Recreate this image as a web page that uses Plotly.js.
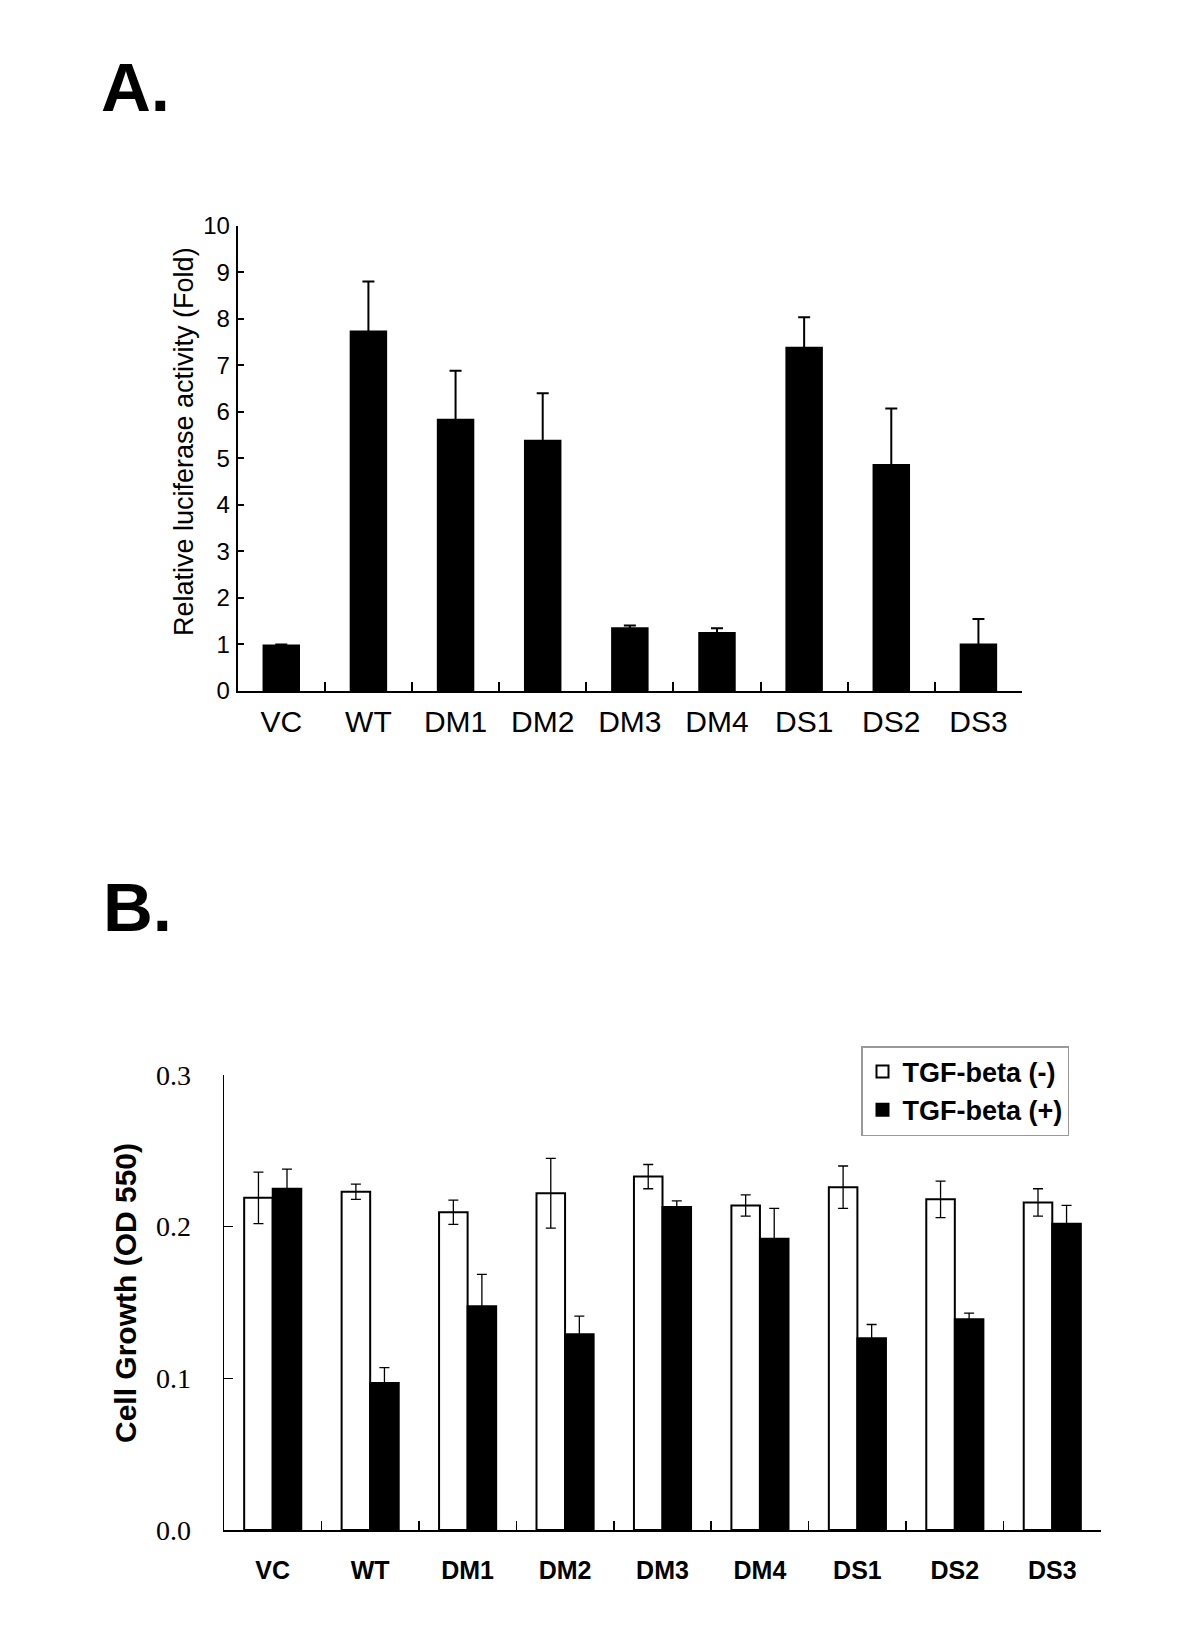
<!DOCTYPE html>
<html>
<head>
<meta charset="utf-8">
<script src="https://cdn.plot.ly/plotly-3.0.1.min.js"></script>
<style>html,body{margin:0;padding:0;background:#fff;}#chart{width:1200px;height:1641px;}</style>
</head>
<body>
<div id="chart"></div>
<script>
// ---- data ----
const categories = ['VC', 'WT', 'DM1', 'DM2', 'DM3', 'DM4', 'DS1', 'DS2', 'DS3'];

// Panel A: relative luciferase activity (fold)
const lucValues = [1.0, 7.75, 5.85, 5.40, 1.37, 1.27, 7.40, 4.88, 1.02];
const lucErrors = [0, 1.05, 1.03, 1.0, 0.04, 0.08, 0.63, 1.19, 0.53];

// Panel B: cell growth (OD 550)
const seriesNames = ['TGF-beta (-)', 'TGF-beta (+)'];
const growthMinus = [0.219, 0.223, 0.2095, 0.222, 0.233, 0.214, 0.226, 0.218, 0.216];
const growthMinusErr = [0.017, 0.005, 0.008, 0.023, 0.008, 0.007, 0.014, 0.012, 0.009];
const growthPlus = [0.225, 0.097, 0.1475, 0.129, 0.213, 0.192, 0.1265, 0.139, 0.202];
const growthPlusErr = [0.013, 0.010, 0.021, 0.012, 0.004, 0.020, 0.009, 0.004, 0.012];

const panelLabels = ['A.', 'B.'];
const titleA = 'Relative luciferase activity (Fold)';
const titleB = 'Cell Growth (OD 550)';

// ---- layout helpers ----
const W = 1200, H = 1641;
const px = v => v / W;
const py = v => 1 - v / H;
const SANS = 'Liberation Sans, Arial, Helvetica, sans-serif';
const SERIF = 'Liberation Serif, Times New Roman, serif';

const traces = [
  {
    type: 'bar', x: categories, y: lucValues, xaxis: 'x', yaxis: 'y',
    width: 0.43, showlegend: false,
    marker: {color: '#000', line: {color: '#000', width: 0}},
    error_y: {type: 'data', array: lucErrors, visible: true, color: '#000', thickness: 2, width: 6}
  },
  {
    type: 'bar', name: seriesNames[0], x: categories, y: growthMinus, xaxis: 'x2', yaxis: 'y2',
    marker: {color: '#fff', line: {color: '#000', width: 2}},
    error_y: {type: 'data', array: growthMinusErr, visible: true, color: '#000', thickness: 1.3, width: 5}
  },
  {
    type: 'bar', name: seriesNames[1], x: categories, y: growthPlus, xaxis: 'x2', yaxis: 'y2',
    marker: {color: '#000', line: {color: '#000', width: 2}},
    error_y: {type: 'data', array: growthPlusErr, visible: true, color: '#000', thickness: 1.3, width: 5}
  }
];

const layout = {
  width: W, height: H,
  margin: {l: 0, r: 0, t: 0, b: 0},
  paper_bgcolor: '#fff', plot_bgcolor: '#fff',
  barmode: 'group', bargap: 0.414, bargroupgap: 0,
  showlegend: true,
  hovermode: false,
  xaxis: {
    domain: [px(237.7), px(1022)], anchor: 'y', type: 'category', range: [-0.5, 8.5],
    showline: true, linecolor: '#000', linewidth: 2, mirror: false,
    ticks: 'inside', tickson: 'boundaries', ticklen: 9, tickwidth: 2, tickcolor: '#000',
    tickfont: {family: SANS, size: 30, color: '#000'}, ticklabelstandoff: 3,
    showgrid: false, zeroline: false
  },
  yaxis: {
    domain: [py(691), py(225.7)], anchor: 'x', range: [0, 10], tick0: 0, dtick: 1,
    showline: true, linecolor: '#000', linewidth: 2,
    ticks: 'inside', ticklen: 6, tickwidth: 2, tickcolor: '#000',
    tickfont: {family: SANS, size: 24, color: '#000'}, ticklabelstandoff: 1,
    showgrid: false, zeroline: false
  },
  xaxis2: {
    domain: [px(224), px(1101)], anchor: 'y2', type: 'category', range: [-0.5, 8.5],
    showline: true, linecolor: '#000', linewidth: 1.5,
    ticks: 'inside', tickson: 'boundaries', ticklen: 9, tickwidth: 1.5, tickcolor: '#000',
    tickfont: {family: SANS, size: 25, color: '#000', weight: 'bold'}, ticklabelstandoff: 17,
    showgrid: false, zeroline: false
  },
  yaxis2: {
    domain: [py(1530), py(1075)], anchor: 'x2', range: [0, 0.3], tick0: 0, dtick: 0.1, tickformat: '.1f',
    showline: true, linecolor: '#000', linewidth: 1.5,
    ticks: 'inside', ticklen: 9, tickwidth: 1.5, tickcolor: '#000',
    tickfont: {family: SERIF, size: 28, color: '#000'}, ticklabelstandoff: 26,
    showgrid: false, zeroline: false
  },
  legend: {
    x: px(861), y: py(1046), xanchor: 'left', yanchor: 'top',
    bgcolor: '#fff', bordercolor: '#999', borderwidth: 1.5,
    font: {family: SANS, size: 27, color: '#000', weight: 'bold'},
    traceorder: 'normal', itemwidth: 30
  },
  annotations: [
    {text: panelLabels[0], xref: 'paper', yref: 'paper', x: px(99), y: py(88), xanchor: 'left', yanchor: 'middle',
     showarrow: false, font: {family: SANS, size: 69, color: '#000', weight: 'bold'}},
    {text: panelLabels[1], xref: 'paper', yref: 'paper', x: px(101), y: py(907), xanchor: 'left', yanchor: 'middle',
     showarrow: false, font: {family: SANS, size: 69, color: '#000', weight: 'bold'}},
    {text: titleA, xref: 'paper', yref: 'paper', x: px(184), y: py(442), xanchor: 'center', yanchor: 'middle',
     textangle: -90, showarrow: false, font: {family: SANS, size: 27, color: '#000'}},
    {text: titleB, xref: 'paper', yref: 'paper', x: px(125), y: py(1293), xanchor: 'center', yanchor: 'middle',
     textangle: -90, showarrow: false, font: {family: SANS, size: 30, color: '#000', weight: 'bold'}}
  ]
};

Plotly.newPlot('chart', traces, layout, {staticPlot: true, displayModeBar: false});
</script>
</body>
</html>
